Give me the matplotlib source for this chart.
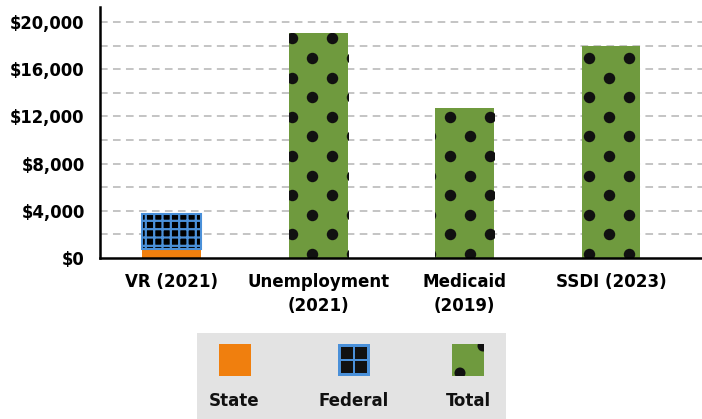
import numpy as np
import matplotlib
matplotlib.use("Agg")
import matplotlib.pyplot as plt
from matplotlib.patches import Rectangle, Circle
from matplotlib.ticker import MultipleLocator, FuncFormatter

# data
categories = ["VR (2021)", "Unemployment\n(2021)", "Medicaid\n(2019)", "SSDI (2023)"]
state = [740, 0, 0, 0]
federal = [2960, 0, 0, 0]
total = [0, 19100, 12700, 18000]
legend_labels = ["State", "Federal", "Total"]

ORANGE = "#f07f0e"
BLUE = "#4a90d9"
GREEN = "#6f9a3e"

plt.rcParams["font.family"] = ["DejaVu Sans"]
plt.rcParams["font.stretch"] = "condensed"
plt.rcParams["font.weight"] = "bold"
plt.rcParams["hatch.linewidth"] = 1.6

fig = plt.figure(figsize=(7.02, 4.19), dpi=100)
ax = fig.add_axes([100 / 702, 161 / 419, 602 / 702, 251 / 419])

x = np.arange(len(categories))
width = 0.4
ax.set_xlim(-0.49, 3.62)
ax.set_ylim(0, 21270)

ax.bar(x, state, width, color=ORANGE, linewidth=0, zorder=3)
ax.bar(x, federal, width, bottom=state, facecolor="black", edgecolor=BLUE,
       hatch="++", linewidth=1.5, zorder=3)
green_bars = ax.bar(x, total, width, color=GREEN, linewidth=0, zorder=3)

# polka-dot texture on the green bars (pixel spacing converted to data units)
px_x = 602 / (3.62 + 0.49)
px_y = 251 / 21270
dot_dx = [8, 3, 15, 7]
dot_phase = [0, 1, 1, 0]
for i, rect in enumerate(green_bars):
    if total[i] == 0:
        continue
    left = rect.get_x()
    xs, ys = [], []
    row = 0
    yp = 4
    while yp < rect.get_height() * px_y + 10:
        two = (row + dot_phase[i]) % 2 == 0
        start = dot_dx[i] + (0 if two else 20)
        for k in range(-2, 4):
            xs.append(left + (start + 40 * k) / px_x)
            ys.append(yp / px_y)
        yp += 19.6
        row += 1
    sc = ax.scatter(xs, ys, s=68, color="#111111", linewidths=0, zorder=4)
    sc.set_clip_path(rect)

ax.yaxis.set_major_locator(MultipleLocator(4000))
ax.yaxis.set_minor_locator(MultipleLocator(2000))
ax.yaxis.set_major_formatter(FuncFormatter(lambda v, p: f"${v:,.0f}"))
for yv in np.arange(2000, 21000, 2000):
    ax.axhline(yv, color="#b4b4b4", linewidth=1.1, linestyle=(0, (5, 3.5)), zorder=1)

ax.set_xticks(x)
ax.set_xticklabels(categories, fontsize=13.3, fontweight="bold", linespacing=1.4)
ax.tick_params(axis="both", which="both", length=0)
ax.tick_params(axis="y", labelsize=13.2, pad=11)
ax.tick_params(axis="x", pad=11)

for s in ["top", "right"]:
    ax.spines[s].set_visible(False)
for s in ["left", "bottom"]:
    ax.spines[s].set_linewidth(1.8)
    ax.spines[s].set_zorder(5)

# legend panel: swatches above labels on a grey box
lg = fig.add_axes([197 / 702, 0, 309 / 702, 86 / 419])
lg.set_xlim(197, 506)
lg.set_ylim(419, 333)
lg.set_facecolor("#e3e3e3")
for s in lg.spines.values():
    s.set_visible(False)
lg.set_xticks([])
lg.set_yticks([])

sw = [219, 338, 452]
lg.add_patch(Rectangle((sw[0], 344), 32, 32, color=ORANGE, linewidth=0))
lg.add_patch(Rectangle((sw[1], 344), 32, 32, color=BLUE, linewidth=0))
for cx in (0, 1):
    for cy in (0, 1):
        lg.add_patch(Rectangle((sw[1] + 3 + cx * 14, 347 + cy * 14), 12, 12,
                               color="#111111", linewidth=0))
tp = Rectangle((sw[2], 344), 32, 32, color=GREEN, linewidth=0)
lg.add_patch(tp)
for c in [(sw[2] + 31, 346), (sw[2] + 8, 373)]:
    dot = Circle(c, 5.5, color="#111111", linewidth=0)
    lg.add_patch(dot)
    dot.set_clip_path(tp)

for xc, lab in zip([234, 354, 468], legend_labels):
    lg.text(xc, 401, lab, ha="center", va="center", fontsize=13.3,
            fontweight="bold", color="#111111")

fig.savefig("out.png", dpi=100)
